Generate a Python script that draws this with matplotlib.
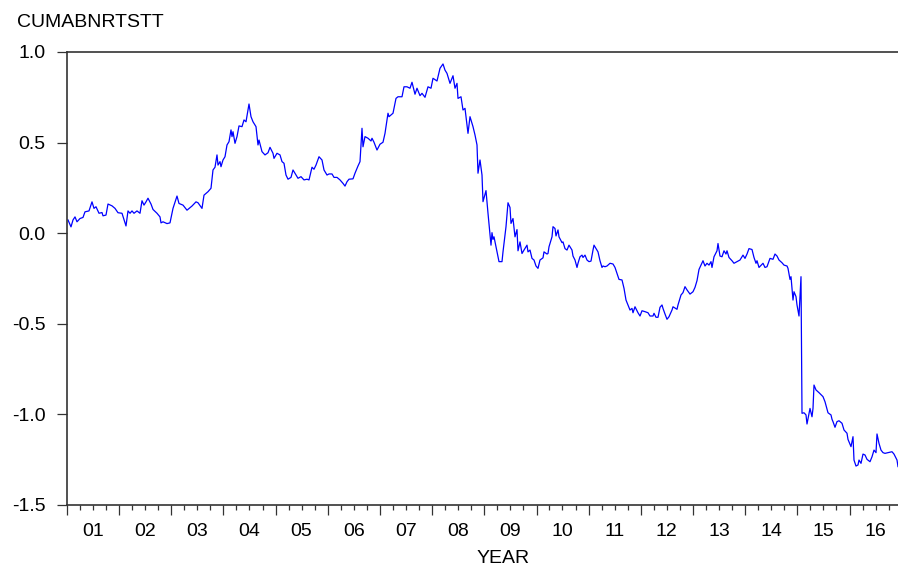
import matplotlib
matplotlib.use("Agg")
import matplotlib.dates as mdates
import matplotlib.pyplot as plt
import numpy as np
import pandas as pd
from matplotlib.ticker import FixedLocator, FuncFormatter

# weeks since the first week of 2001, and the cumulative series at those weeks
weeks = [
    1, 4, 6, 8, 10, 13, 16, 18, 22, 25, 27, 29, 32, 35, 36, 39, 41, 45, 48, 51,
    55, 59, 61, 63, 65, 67, 70, 73, 75, 77, 79, 81, 84, 86, 90, 93, 94, 96, 100, 103,
    106, 110, 112, 116, 120, 125, 129, 131, 135, 137, 141, 144, 146, 148, 150, 151, 153, 154, 156, 158,
    160, 162, 164, 165, 166, 168, 170, 172, 175, 177, 179, 182, 184, 186, 189, 191, 192, 195, 198, 201,
    203, 206, 207, 210, 213, 215, 217, 219, 221, 224, 226, 228, 231, 234, 237, 240, 242, 245, 247, 249,
    252, 255, 257, 260, 262, 265, 267, 270, 273, 276, 278, 280, 282, 286, 288, 291, 293, 295, 296, 298,
    301, 304, 305, 307, 310, 313, 316, 318, 321, 322, 326, 329, 331, 335, 337, 340, 343, 345, 348, 350,
    353, 355, 358, 361, 364, 366, 370, 373, 376, 378, 380, 383, 386, 388, 390, 391, 394, 396, 398, 401,
    403, 406, 408, 410, 411, 413, 415, 416, 419, 421, 424, 425, 426, 427, 430, 432, 435, 436, 439, 441,
    443, 444, 446, 448, 450, 451, 453, 455, 457, 460, 461, 463, 465, 467, 469, 471, 473, 476, 477, 480,
    481, 482, 485, 486, 488, 489, 491, 492, 495, 496, 498, 500, 502, 505, 506, 508, 510, 511, 513, 515,
    516, 518, 520, 522, 524, 526, 527, 529, 531, 533, 535, 536, 538, 540, 543, 546, 548, 550, 552, 555,
    557, 559, 561, 563, 565, 566, 568, 571, 573, 575, 578, 581, 583, 586, 587, 589, 591, 593, 595, 596,
    598, 600, 602, 605, 606, 610, 611, 614, 616, 618, 620, 623, 626, 628, 630, 632, 635, 636, 638, 640,
    642, 644, 645, 647, 650, 651, 653, 655, 657, 659, 660, 662, 665, 667, 670, 673, 676, 678, 680, 682,
    685, 687, 689, 690, 692, 696, 698, 700, 703, 706, 708, 710, 712, 715, 717, 720, 721, 723, 724, 726,
    727, 729, 730, 732, 733, 734, 735, 737, 739, 740, 742, 743, 745, 746, 747, 749, 752, 756, 758, 761,
    764, 765, 766, 768, 770, 772, 775, 777, 780, 781, 784, 786, 787, 789, 791, 792, 794, 796, 798, 800,
    803, 805, 807, 809, 810, 812, 814, 816, 818, 821, 825, 827, 830, 831,
]
cumabnrtstt = [
    0.073, 0.035, 0.073, 0.090, 0.063, 0.081, 0.087, 0.118, 0.123, 0.173, 0.137, 0.146, 0.110, 0.114, 0.096, 0.100, 0.161, 0.151, 0.137, 0.113,
    0.110, 0.040, 0.123, 0.110, 0.123, 0.110, 0.123, 0.110, 0.179, 0.155, 0.173, 0.193, 0.161, 0.131, 0.110, 0.090, 0.057, 0.063, 0.053, 0.057,
    0.137, 0.205, 0.164, 0.155, 0.127, 0.150, 0.173, 0.168, 0.137, 0.210, 0.229, 0.248, 0.349, 0.364, 0.432, 0.376, 0.395, 0.367, 0.404, 0.422,
    0.487, 0.505, 0.570, 0.533, 0.560, 0.496, 0.533, 0.592, 0.588, 0.625, 0.615, 0.713, 0.643, 0.615, 0.588, 0.487, 0.514, 0.450, 0.432, 0.444,
    0.474, 0.441, 0.413, 0.441, 0.432, 0.395, 0.386, 0.321, 0.298, 0.308, 0.349, 0.331, 0.303, 0.312, 0.294, 0.298, 0.294, 0.364, 0.353, 0.376,
    0.422, 0.404, 0.349, 0.321, 0.327, 0.327, 0.308, 0.308, 0.294, 0.275, 0.260, 0.284, 0.298, 0.300, 0.331, 0.371, 0.395, 0.579, 0.477, 0.533,
    0.524, 0.509, 0.524, 0.502, 0.459, 0.491, 0.502, 0.551, 0.662, 0.643, 0.662, 0.744, 0.753, 0.753, 0.808, 0.808, 0.800, 0.833, 0.767, 0.800,
    0.759, 0.772, 0.750, 0.808, 0.800, 0.855, 0.840, 0.910, 0.934, 0.900, 0.882, 0.827, 0.869, 0.800, 0.827, 0.744, 0.753, 0.680, 0.689, 0.551,
    0.643, 0.588, 0.542, 0.487, 0.331, 0.404, 0.321, 0.174, 0.235, 0.110, -0.066, 0.003, -0.034, -0.020, -0.103, -0.157, -0.157, -0.103, 0.036, 0.168,
    0.142, 0.054, 0.081, -0.020, 0.020, -0.097, -0.048, -0.112, -0.093, -0.066, -0.103, -0.093, -0.139, -0.148, -0.181, -0.194, -0.148, -0.136, -0.103, -0.115,
    -0.112, -0.075, -0.020, 0.036, 0.026, -0.015, 0.018, -0.020, -0.052, -0.048, -0.085, -0.093, -0.066, -0.093, -0.126, -0.148, -0.189, -0.166, -0.130, -0.121,
    -0.134, -0.121, -0.148, -0.157, -0.154, -0.093, -0.066, -0.085, -0.103, -0.152, -0.189, -0.181, -0.185, -0.181, -0.166, -0.170, -0.189, -0.222, -0.255, -0.258,
    -0.304, -0.369, -0.396, -0.424, -0.415, -0.439, -0.406, -0.439, -0.457, -0.428, -0.433, -0.439, -0.457, -0.457, -0.442, -0.464, -0.464, -0.409, -0.396, -0.415,
    -0.446, -0.475, -0.461, -0.424, -0.406, -0.420, -0.396, -0.341, -0.328, -0.295, -0.313, -0.336, -0.323, -0.299, -0.262, -0.200, -0.163, -0.152, -0.181, -0.166,
    -0.176, -0.157, -0.189, -0.130, -0.097, -0.057, -0.126, -0.130, -0.097, -0.115, -0.097, -0.134, -0.152, -0.166, -0.157, -0.148, -0.121, -0.139, -0.115, -0.085,
    -0.090, -0.134, -0.166, -0.152, -0.189, -0.166, -0.189, -0.185, -0.139, -0.144, -0.115, -0.126, -0.148, -0.163, -0.176, -0.181, -0.194, -0.255, -0.240, -0.369,
    -0.323, -0.350, -0.396, -0.457, -0.350, -0.240, -0.994, -0.991, -1.003, -1.053, -0.994, -0.967, -1.013, -0.967, -0.838, -0.865, -0.880, -0.902, -0.930, -0.991,
    -1.003, -1.027, -1.040, -1.071, -1.040, -1.035, -1.049, -1.086, -1.104, -1.138, -1.178, -1.123, -1.252, -1.285, -1.279, -1.252, -1.270, -1.219, -1.224, -1.248,
    -1.261, -1.234, -1.197, -1.211, -1.108, -1.160, -1.197, -1.211, -1.215, -1.211, -1.206, -1.219, -1.252, -1.288,
]
y_ticks = [-1.5, -1.0, -0.5, 0.0, 0.5, 1.0]


def main():
    plt.rcParams["font.family"] = ["Liberation Sans", "DejaVu Sans"]
    plt.rcParams["axes.unicode_minus"] = False

    dates = pd.Timestamp("2001-01-01") + pd.to_timedelta(np.array(weeks) * 7, unit="D")

    fig = plt.figure(figsize=(8.98, 5.66), dpi=100)
    ax = fig.add_axes([67 / 898, 1 - 505 / 566, 1 - 67 / 898, (505 - 52) / 566])

    ax.plot(dates, cumabnrtstt, color="#0000FF", linewidth=0.9)

    ax.set_xlim(pd.Timestamp("2001-01-01"), dates[-1])
    ax.set_ylim(-1.5, 1.0)

    ax.yaxis.set_major_locator(FixedLocator(y_ticks))
    ax.yaxis.set_major_formatter(FuncFormatter(lambda v, p: f"{v:.1f}"))

    ax.xaxis.set_major_locator(mdates.YearLocator())
    ax.xaxis.set_major_formatter(FuncFormatter(lambda v, p: ""))
    ax.xaxis.set_minor_locator(mdates.MonthLocator(bymonth=[4, 7, 10]))

    def mid_year_label(v, p):
        d = mdates.num2date(v)
        return d.strftime("%y") if d.month == 7 else ""

    ax.xaxis.set_minor_formatter(FuncFormatter(mid_year_label))

    for side in ["top", "bottom", "left"]:
        ax.spines[side].set_color("#333333")
        ax.spines[side].set_linewidth(1.2)
    ax.spines["right"].set_visible(False)

    ax.tick_params(axis="y", which="major", direction="out", length=7, width=0.9,
                   pad=8.5, labelsize=14, colors="#333333", labelcolor="black")
    ax.tick_params(axis="x", which="major", direction="out", length=7, width=0.9,
                   colors="#333333")
    ax.tick_params(axis="x", which="minor", direction="out", length=3.6, width=0.9,
                   pad=9, labelsize=14, colors="#333333", labelcolor="black")

    fig.text(17 / 898, 1 - 27 / 566, "CUMABNRTSTT", fontsize=14, va="baseline", ha="left")
    fig.text(503.5 / 898, 1 - 563 / 566, "YEAR", fontsize=14, va="baseline", ha="center")

    fig.savefig("out.png", dpi=100)


if __name__ == "__main__":
    main()
